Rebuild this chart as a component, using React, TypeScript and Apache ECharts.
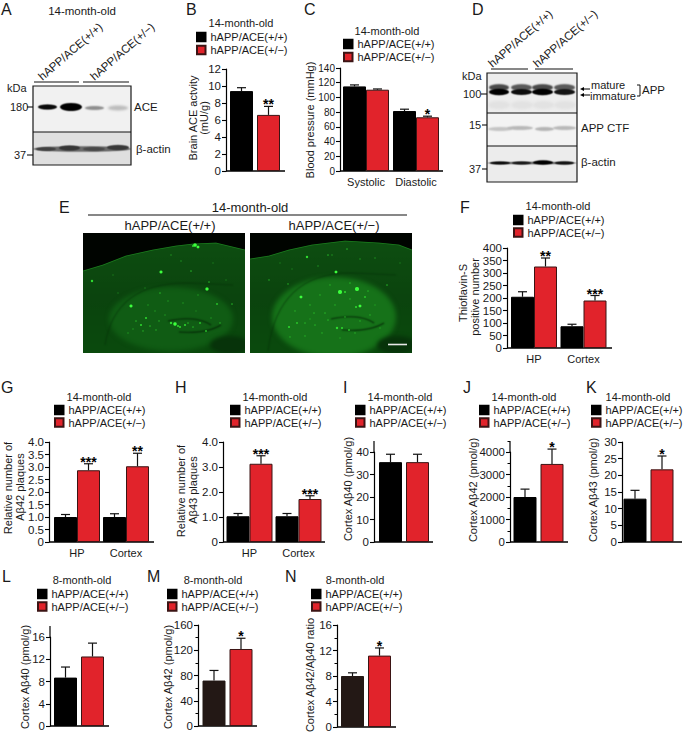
import React, { useEffect, useRef } from "react";
import * as echarts from "echarts";

const FONT = '"Liberation Sans", Arial, sans-serif';
const BLACK = "#000000";
const RED = "#e1232b";
const BORDER = "#3b1414";
const groupNames = ["hAPP/ACE(+/+)", "hAPP/ACE(+/−)"];
const age14 = "14-month-old";
const age8 = "8-month-old";

// ---- values ----
const hpCortex = ["HP", "Cortex"];
const sysDia = ["Systolic", "Diastolic"];
const single = [""];

const bWild = [9.4]; const bWildTop = [9.8]; const bHet = [6.6]; const bHetTop = [7.6]; const bStars = ["**"];
const cWild = [115, 81.5]; const cWildTop = [117, 84]; const cHet = [110.5, 73]; const cHetTop = [111.5, 74.5]; const cStars = ["", "*"];
const fWild = [205, 87]; const fWildTop = [225, 95]; const fHet = [326, 190]; const fHetTop = [360, 210]; const fStars = ["**", "***"];
const gWild = [1.0, 1.0]; const gWildTop = [1.1, 1.13]; const gHet = [2.87, 3.03]; const gHetTop = [3.13, 3.55]; const gStars = ["***", "**"];
const hWild = [1.03, 1.03]; const hWildTop = [1.14, 1.14]; const hHet = [3.13, 1.72]; const hHetTop = [3.45, 1.85]; const hStars = ["***", "***"];
const iWild = [35.5]; const iWildTop = [39]; const iHet = [35.5]; const iHetTop = [39]; const iStars = [""];
const jWild = [2000]; const jWildTop = [2350]; const jHet = [3470]; const jHetTop = [4130]; const jStars = ["*"];
const kWild = [13]; const kWildTop = [15.5]; const kHet = [21.8]; const kHetTop = [25.8]; const kStars = ["*"];
const lWild = [8.7]; const lWildTop = [10.6]; const lHet = [12.5]; const lHetTop = [14.9]; const lStars = [""];
const mWild = [72]; const mWildTop = [88]; const mHet = [122]; const mHetTop = [139]; const mStars = ["*"];
const nWild = [8]; const nWildTop = [8.5]; const nHet = [11.2]; const nHetTop = [12.4]; const nStars = ["*"];

const fixed1 = (v: number) => (v === 0 ? "0" : v.toFixed(1));

const panels: any[] = [
  { cats: single, wild: bWild, wildTop: bWildTop, het: bHet, hetTop: bHetTop, stars: bStars, max: 12, step: 2,
    axisX: 226, endX: 285, top: 69, bottom: 171, centers: [255], gap: 4, title: [age14, 241, 23], legend: [196, 31.5], rowGap: 2,
    yName: [["Brain ACE actvity", 193, 118], ["(mU/g)", 204, 118]] },
  { cats: sysDia, wild: cWild, wildTop: cWildTop, het: cHet, hetTop: cHetTop, stars: cStars, max: 140, step: 20, tickSize: 10,
    axisX: 340, endX: 443, top: 68, bottom: 171, centers: [366, 416], gap: 0, title: [age14, 387, 31], legend: [343, 38.5], rowGap: 2,
    yName: [["Blood pressure (mmHg)", 310, 120]] },
  { cats: hpCortex, wild: fWild, wildTop: fWildTop, het: fHet, hetTop: fHetTop, stars: fStars, max: 400, step: 50,
    axisX: 507, endX: 612, top: 248, bottom: 348, centers: [534, 583.5], gap: 0, title: [age14, 558, 206], legend: [513, 214.5],
    yName: [["Thioflavin-S", 463, 293], ["positive number", 475, 297]] },
  { cats: hpCortex, wild: gWild, wildTop: gWildTop, het: gHet, hetTop: gHetTop, stars: gStars, max: 4, step: 0.5, fmt: fixed1,
    axisX: 49, endX: 154, top: 442, bottom: 542, centers: [77, 126], gap: 0, title: [age14, 99, 397], legend: [54, 404.5],
    yName: [["Relative number of", 8, 488], ["Aβ42 plaques", 20, 487]] },
  { cats: hpCortex, wild: hWild, wildTop: hWildTop, het: hHet, hetTop: hHetTop, stars: hStars, max: 4, step: 1, fmt: fixed1,
    axisX: 223, endX: 325, top: 442, bottom: 542, centers: [249.5, 298.5], gap: 0, title: [age14, 275, 397], legend: [230, 404.5],
    yName: [["Relative number of", 181, 491], ["Aβ43 plaques", 193, 490]] },
  { cats: single, wild: iWild, wildTop: iWildTop, het: iHet, hetTop: iHetTop, stars: iStars, max: 40, step: 10,
    axisX: 374, endX: 433, top: 452, bottom: 542, extendTo: 441, centers: [404], gap: 4, title: [age14, 400, 397], legend: [355, 404.5],
    yName: [["Cortex Aβ40 (pmol/g)", 348, 489]] },
  { cats: single, wild: jWild, wildTop: jWildTop, het: jHet, hetTop: jHetTop, stars: jStars, max: 4000, step: 1000, minor: true,
    axisX: 510, endX: 568, top: 452, bottom: 542, extendTo: 441, extendTick: true, centers: [538.5], gap: 4, title: [age14, 524, 397], legend: [479, 404.5],
    yName: [["Cortex Aβ42 (pmol/g)", 473, 490]] },
  { cats: single, wild: kWild, wildTop: kWildTop, het: kHet, hetTop: kHetTop, stars: kStars, max: 30, step: 5,
    axisX: 622, endX: 682, top: 442, bottom: 542, centers: [648.5], gap: 4, title: [age14, 638, 397], legend: [591, 404.5],
    yName: [["Cortex Aβ43 (pmol/g)", 593, 490]] },
  { cats: single, wild: lWild, wildTop: lWildTop, het: lHet, hetTop: lHetTop, stars: lStars, max: 16, step: 4,
    axisX: 50, endX: 109, top: 637, bottom: 726, extendTo: 626, centers: [79], gap: 4, title: [age8, 82, 580], legend: [37, 588.5],
    yName: [["Cortex Aβ40 (pmol/g)", 25, 677]] },
  { cats: single, wild: mWild, wildTop: mWildTop, het: mHet, hetTop: mHetTop, stars: mStars, max: 160, step: 40, minor: true, dark: true,
    axisX: 198, endX: 257, top: 625, bottom: 726, centers: [227.5], gap: 4, title: [age8, 213, 580], legend: [167, 588.5],
    yName: [["Cortex Aβ42 (pmol/g)", 168, 677]] },
  { cats: single, wild: nWild, wildTop: nWildTop, het: nHet, hetTop: nHetTop, stars: nStars, max: 16, step: 4, minor: true, dark: true,
    axisX: 337, endX: 396, top: 625, bottom: 727, centers: [366], gap: 4, title: [age8, 355, 580], legend: [311, 588.5],
    yName: [["Cortex Aβ42/Aβ40 ratio", 310, 675]] },
];

const panelLetters: [string, number, number][] = [
  ["A", 1, 9], ["B", 186, 9], ["C", 304, 9], ["D", 472, 9], ["E", 59, 207], ["F", 460, 207],
  ["G", 1, 387], ["H", 175, 387], ["I", 343, 387], ["J", 463, 387], ["K", 586, 387],
  ["L", 2, 576], ["M", 147, 576], ["N", 285, 576],
];

// ---- picture textures: [x0, x1, centre y, half height, colour, blur] ----
const blotAceBands: any[] = [
  [5, 24, 21, 2.6, "#0a0a0a", 1], [27, 49, 21, 4, "#000000", 1], [52, 71, 22, 2, "#8d8d8d", 1.5], [75, 95, 22, 2.5, "#bcbcbc", 2],
];
const blotActinBands: any[] = [
  [0, 98, 17, 2.8, "#6a6a6a", 1.2], [3, 23, 17, 2, "#404040", 1], [26, 47, 16, 2.6, "#353535", 1], [50, 72, 17, 2, "#484848", 1], [74, 96, 15.5, 2.6, "#383838", 1],
];
const blotAppBands: any[] = [
  [1, 23, 32, 4, "#e2e2e2", 2], [24, 46, 32, 4, "#e2e2e2", 2], [46, 67, 32, 4, "#e2e2e2", 2], [67, 89, 32, 4, "#e2e2e2", 2],
  [2, 22, 14.5, 3.4, "#4a4a4a", 1.6], [24, 45, 14.5, 3.4, "#5a5a5a", 1.6], [45, 66, 14.5, 3.4, "#4a4a4a", 1.6], [67, 88, 14.5, 3.4, "#5a5a5a", 1.6],
  [2, 22, 19, 3.2, "#000000", 1], [24, 45, 19, 3, "#0d0d0d", 1], [45, 66, 19, 3.2, "#000000", 1], [67, 88, 19, 3, "#141414", 1],
];
const blotCtfBands: any[] = [
  [1, 25, 16, 2, "#c4c4c4", 1.8], [20, 46, 15, 2, "#b8b8b8", 1.8], [48, 67, 16, 2, "#b4b4b4", 1.8], [66, 89, 15, 2, "#b8b8b8", 1.8],
];
const blotDActinBands: any[] = [
  [0, 90, 17, 1.2, "#666666", 1], [3, 23, 17, 1.6, "#0d0d0d", 0.8], [25, 44, 17, 1.6, "#1a1a1a", 0.8], [46, 66, 16.5, 2.2, "#000000", 0.8], [68, 87, 17, 1.7, "#141414", 0.8],
];

// ---- cortex outline and fluorescent spots [x, y, radius] in each 162x120 section ----
const leftOutline = [[0, 38], [20, 32], [43, 23], [70, 17], [93, 13], [110, 11], [133, 10], [162, 17]];
const rightOutline = [[0, 26], [19, 23], [39, 17], [62, 12], [95, 8], [129, 10], [149, 12], [162, 17]];
const leftSpots: number[][] = [
  [112, 12, 1.8], [115, 14, 1.4], [110, 13, 1], [78, 39, 1.5], [9, 48, 1.2], [124, 56, 1.6], [48, 73, 1.5], [92, 91, 1.7], [88, 90, 1.2], [95, 93, 1],
  [58, 92, 1], [63, 85, 1], [102, 92, 1], [108, 38, 0.8], [126, 49, 0.8], [149, 71, 0.8], [134, 71, 0.9], [123, 98, 0.9], [67, 93, 0.8], [117, 90, 0.9],
  [97, 94, 1], [77, 60, 0.8], [53, 88, 0.8], [73, 97, 0.7], [105, 90, 0.8], [110, 94, 0.8], [82, 82, 0.6], [72, 78, 0.6], [60, 98, 0.7], [50, 96, 0.6],
  [100, 70, 0.6], [115, 62, 0.6], [88, 22, 0.6], [98, 28, 0.6], [130, 30, 0.5], [62, 55, 0.5], [35, 60, 0.5], [30, 42, 0.5], [137, 90, 0.7], [128, 85, 0.6],
  [65, 72, 0.6], [85, 68, 0.6], [76, 88, 0.7], [113, 78, 0.5], [143, 47, 0.5], [45, 100, 0.6],
];
const rightSpots: number[][] = [
  [90, 59, 2], [107, 56, 2], [57, 24, 1.2], [86, 39, 1.4], [51, 64, 1.4], [110, 73, 1.4], [106, 74, 1], [78, 22, 0.8], [97, 16, 0.8], [95, 59, 1],
  [87, 95, 1.2], [92, 95, 1], [39, 94, 1], [115, 64, 0.9], [38, 51, 0.7], [19, 47, 0.7], [137, 52, 0.8], [64, 80, 0.8], [75, 80, 0.8], [47, 90, 0.9],
  [99, 97, 0.9], [55, 90, 0.8], [65, 92, 0.8], [82, 22, 0.6], [125, 25, 0.6], [110, 26, 0.6], [100, 50, 0.8], [118, 58, 0.8], [80, 52, 0.7], [70, 62, 0.7],
  [60, 72, 0.7], [85, 72, 0.7], [95, 84, 0.7], [110, 88, 0.7], [120, 82, 0.7], [45, 78, 0.7], [40, 104, 0.7], [55, 103, 0.7], [72, 100, 0.7], [105, 100, 0.7],
  [78, 87, 0.8], [125, 72, 0.6], [130, 95, 0.6], [68, 33, 0.6], [42, 36, 0.5], [150, 30, 0.5], [30, 30, 0.5], [100, 66, 0.7], [60, 86, 0.6], [90, 105, 0.6],
];

function blot(w: number, h: number, bg: string, bands: any[]) {
  const c = document.createElement("canvas");
  c.width = w * 2; c.height = h * 2;
  const x = c.getContext("2d") as any;
  x.scale(2, 2);
  x.fillStyle = bg; x.fillRect(0, 0, w, h);
  for (const [x0, x1, cy, hh, col, blur] of bands) {
    x.filter = `blur(${blur}px)`;
    x.fillStyle = col;
    x.beginPath();
    x.ellipse((x0 + x1) / 2, cy, (x1 - x0) / 2, hh, 0, 0, Math.PI * 2);
    x.fill();
  }
  return c.toDataURL();
}

function section(outline: number[][], spots: number[][], hippo: string, hx: number, hy: number, hrx: number, hry: number) {
  const w = 162, h = 120;
  const c = document.createElement("canvas");
  c.width = w * 2; c.height = h * 2;
  const x = c.getContext("2d") as any;
  x.scale(2, 2);
  x.fillStyle = "#000400"; x.fillRect(0, 0, w, h);
  x.save();
  x.beginPath();
  x.moveTo(0, h);
  outline.forEach((p) => x.lineTo(p[0], p[1]));
  x.lineTo(w, h);
  x.closePath();
  x.clip();
  const g = x.createLinearGradient(0, 0, 0, h);
  g.addColorStop(0, "#0e4f11"); g.addColorStop(0.55, "#0b440e"); g.addColorStop(1, "#0a4a0d");
  x.fillStyle = g; x.fillRect(0, 0, w, h);
  x.filter = "blur(5px)";
  x.fillStyle = hippo;
  x.beginPath(); x.ellipse(hx, hy, hrx, hry, 0, 0, Math.PI * 2); x.fill();
  x.filter = "blur(1.5px)";
  x.strokeStyle = "rgba(5,45,8,0.55)"; x.lineWidth = 1;
  x.beginPath(); x.moveTo(hx - hrx - 4, hy + hry - 6); x.quadraticCurveTo(hx - hrx + 6, hy - hry - 6, hx + 20, hy - hry - 4); x.lineTo(hx + hrx, hy - hry - 2); x.stroke();
  x.lineWidth = 1.1; x.strokeStyle = "rgba(2,30,5,0.85)";
  x.beginPath(); x.moveTo(hx - 3, hy + 2); x.quadraticCurveTo(hx + 25, hy - 4, hx + 40, hy + 6); x.stroke();
  x.beginPath(); x.moveTo(hx + 8, hy + 13); x.quadraticCurveTo(hx + 35, hy + 15, hx + 50, hy + 6); x.stroke();
  x.filter = "blur(4px)";
  x.fillStyle = "#07330a";
  x.beginPath(); x.ellipse(147, 112, 20, 9, 0, 0, Math.PI * 2); x.fill();
  x.filter = "none";
  x.restore();
  x.filter = "blur(0.4px)";
  x.strokeStyle = "#1b7f1e"; x.lineWidth = 0.8;
  x.beginPath();
  outline.forEach((p, i) => (i ? x.lineTo(p[0], p[1]) : x.moveTo(p[0], p[1])));
  x.stroke();
  x.filter = "blur(0.5px)";
  for (const [sx, sy, r] of spots) {
    x.fillStyle = r >= 1.4 ? "#3dff3d" : r >= 0.9 ? "#2fdc30" : "#27b528";
    x.beginPath(); x.arc(sx, sy, r, 0, Math.PI * 2); x.fill();
  }
  x.filter = "none";
  return c.toDataURL();
}

function label(text: string, x: number, y: number, o: any = {}) {
  return {
    type: "text", x, y, rotation: o.rotation || 0, silent: true,
    style: {
      text, fill: o.fill || "#1a1a1a", font: `${o.weight || "normal"} ${o.size || 11}px ${FONT}`,
      textAlign: o.align || "left", align: o.align || "left", textVerticalAlign: "middle", verticalAlign: "middle",
    },
  };
}
function rule(x1: number, y1: number, x2: number, y2: number, lineWidth = 1.1, stroke = "#111") {
  return { type: "line", silent: true, shape: { x1, y1, x2, y2 }, style: { stroke, lineWidth } };
}
function picture(url: string, x: number, y: number, width: number, height: number) {
  return { type: "image", silent: true, x, y, style: { image: url, x: 0, y: 0, width, height } };
}
function frame(x: number, y: number, width: number, height: number) {
  return { type: "rect", silent: true, shape: { x, y, width, height }, style: { fill: "none", stroke: "#1a1a1a", lineWidth: 1.2 } };
}
function arrow(xTip: number, xEnd: number, y: number) {
  return [
    rule(xTip + 3, y, xEnd, y, 1, "#000"),
    { type: "polygon", silent: true, shape: { points: [[xTip, y], [xTip + 4, y - 2], [xTip + 4, y + 2]] }, style: { fill: "#000" } },
  ];
}

function figureGraphics() {
  const e: any[] = [];
  const slant = (41 * Math.PI) / 180;
  panelLetters.forEach(([t, x, y]) => e.push(label(t, x, y, { size: 16 })));

  // Panel A
  e.push(label(age14, 82, 11, { align: "center", size: 11.5 }));
  e.push(label(groupNames[0], 40, 78, { rotation: slant, size: 11.5 }));
  e.push(label(groupNames[1], 92, 78, { rotation: slant, size: 11.5 }));
  e.push(rule(34, 82, 79, 82), rule(83, 82, 129, 82));
  e.push(picture(blot(98, 46, "#f1f1f1", blotAceBands), 33, 86, 98, 46));
  e.push(picture(blot(98, 33, "#dfdfdf", blotActinBands), 33, 132, 98, 33));
  e.push(frame(33, 86, 98, 79), rule(33, 132, 131, 132, 1.2));
  e.push(label("kDa", 7, 88), label("180", 10, 107), label("37", 14, 155));
  e.push(rule(27, 107, 33, 107), rule(27, 155, 33, 155));
  e.push(label("ACE", 134, 107, { size: 11.5 }), label("β-actin", 136, 149, { size: 11.5 }));

  // Panel D
  e.push(label(groupNames[0], 490, 65, { rotation: slant, size: 11.5 }));
  e.push(label(groupNames[1], 535, 65, { rotation: slant, size: 11.5 }));
  e.push(rule(491, 69, 528, 69), rule(535, 69, 573, 69));
  e.push(picture(blot(90, 40, "#ededed", blotAppBands), 487, 73, 90, 40));
  e.push(picture(blot(90, 33, "#f3f3f3", blotCtfBands), 487, 113, 90, 33));
  e.push(picture(blot(90, 36, "#ececec", blotDActinBands), 487, 146, 90, 36));
  e.push(frame(487, 73, 90, 109), rule(487, 113, 577, 113, 1.2), rule(487, 146, 577, 146, 1.2));
  e.push(label("kDa", 462, 76), label("100", 463, 94), label("15", 469, 125), label("37", 469, 169));
  e.push(rule(481, 94, 487, 94), rule(482, 125, 487, 125), rule(482, 169, 487, 169));
  e.push(label("mature", 591, 85, { size: 11 }), label("immature", 590, 96, { size: 11 }));
  e.push(...arrow(580, 590, 89), ...arrow(580, 590, 95));
  e.push({ type: "polyline", silent: true, shape: { points: [[637, 85], [640, 85], [640, 96], [637, 96]] }, style: { stroke: "#111", lineWidth: 1, fill: "none" } });
  e.push(label("APP", 642, 90, { size: 11.5 }));
  e.push(label("APP CTF", 581, 128, { size: 11.5 }), label("β-actin", 581, 162, { size: 11.5 }));

  // Panel E
  e.push(label(age14, 250, 207, { align: "center", size: 13 }));
  e.push(rule(88, 215, 407, 215, 1.2));
  e.push(label(groupNames[0], 170, 225, { align: "center", size: 13 }), label(groupNames[1], 334, 225, { align: "center", size: 13 }));
  e.push(picture(section(leftOutline, leftSpots, "#105c14", 88, 86, 62, 32), 83, 233, 162, 120));
  e.push(picture(section(rightOutline, rightSpots, "#167219", 84, 84, 62, 40), 250, 233, 162, 120));
  e.push(rule(388, 344.5, 407, 344.5, 1.6, "#e8e8e8"));

  // Chart titles, y-axis names, baselines
  for (const p of panels) {
    e.push(label(p.title[0], p.title[1], p.title[2], { align: "center" }));
    for (const [t, x, y] of p.yName) e.push(label(t, x, y, { align: "center", rotation: Math.PI / 2 }));
    e.push(rule(p.axisX, p.bottom, p.endX, p.bottom, 1.3, "#000"));
    if (p.extendTo) e.push(rule(p.axisX, p.extendTo, p.axisX, p.top, 1.2, "#000"));
    if (p.extendTick) e.push(rule(p.axisX - 2.5, p.extendTo + 0.5, p.axisX, p.extendTo + 0.5, 1, "#000"));
  }
  return e;
}

function buildOption() {
  const grid: any[] = [], xAxis: any[] = [], yAxis: any[] = [], series: any[] = [], legend: any[] = [];
  const barW = 23;
  panels.forEach((p, i) => {
    let left: number, width: number;
    if (p.centers.length === 2) {
      const s = p.centers[1] - p.centers[0];
      left = p.centers[0] - s / 2; width = 2 * s;
    } else {
      const half = Math.min(p.centers[0] - p.axisX, p.endX - p.centers[0]);
      left = p.centers[0] - half; width = 2 * half;
    }
    grid.push({ left, top: p.top, width, height: p.bottom - p.top });
    xAxis.push({
      type: "category", gridIndex: i, data: p.cats,
      axisLine: { show: false }, axisTick: { show: false },
      axisLabel: { show: p.cats !== single, margin: 5, color: "#1a1a1a", fontFamily: FONT, fontSize: 11, interval: 0 },
    });
    yAxis.push({
      type: "value", gridIndex: i, min: 0, max: p.max, interval: p.step, position: "left", offset: left - p.axisX,
      splitLine: { show: false },
      axisLine: { show: true, onZero: false, lineStyle: { color: "#000", width: 1.2 } },
      axisTick: { show: true, length: 4, lineStyle: { color: "#000", width: 1.1 } },
      minorTick: { show: !!p.minor, splitNumber: 2, length: 2.5, lineStyle: { color: "#000", width: 1 } },
      axisLabel: { margin: 5, color: "#1a1a1a", fontFamily: FONT, fontSize: p.tickSize || 11.5, formatter: p.fmt || ((v: number) => String(v)) },
    });
    const gapPct = `${(p.gap / barW) * 100}%`;
    const wildColor = p.dark ? "#231815" : BLACK;
    series.push(
      { type: "bar", name: groupNames[0], xAxisIndex: i, yAxisIndex: i, data: p.wild, barWidth: barW, barGap: gapPct,
        itemStyle: { color: wildColor, borderColor: wildColor, borderWidth: 1 } },
      { type: "bar", name: groupNames[1], xAxisIndex: i, yAxisIndex: i, data: p.het, barWidth: barW, barGap: gapPct,
        itemStyle: { color: RED, borderColor: BORDER, borderWidth: 1 } },
    );
    [[p.wild, p.wildTop, -1], [p.het, p.hetTop, 1]].forEach(([vals, tops, side]: any, k) => {
      const shift = (side * (barW + p.gap)) / 2;
      series.push({
        type: "custom", xAxisIndex: i, yAxisIndex: i, z: 5, silent: true, clip: false,
        encode: { x: 0, y: 1 },
        data: vals.map((v: number, j: number) => [j, v, tops[j]]),
        renderItem: (params: any, api: any) => {
          const base = api.coord([api.value(0), api.value(1)]);
          const top = api.coord([api.value(0), api.value(2)]);
          const cx = base[0] + shift;
          const children: any[] = [
            { type: "line", shape: { x1: cx, y1: base[1], x2: cx, y2: top[1] }, style: { stroke: "#111", lineWidth: 1.2 } },
            { type: "line", shape: { x1: cx - 4.5, y1: top[1], x2: cx + 4.5, y2: top[1] }, style: { stroke: "#111", lineWidth: 1.2 } },
          ];
          const star = k === 1 ? p.stars[params.dataIndex] : "";
          if (star) {
            children.push({
              type: "text", x: cx, y: top[1] - 2,
              style: { text: star, fill: "#000", font: `bold 14px ${FONT}`, textAlign: "center", align: "center", textVerticalAlign: "middle", verticalAlign: "middle" },
            });
          }
          return { type: "group", children };
        },
      });
    });
    legend.push({
      left: p.legend[0], top: p.legend[1], orient: "vertical", data: groupNames, selectedMode: false, icon: "rect",
      itemWidth: 8.5, itemHeight: 8.5, itemGap: p.rowGap ?? 1.5, padding: 0,
      textStyle: { color: "#1a1a1a", fontFamily: FONT, fontSize: 11 },
    });
  });
  return { animation: false, backgroundColor: "#ffffff", grid, xAxis, yAxis, series, legend, graphic: { elements: figureGraphics() } };
}

export default function App() {
  const ref = useRef<HTMLDivElement>(null);
  useEffect(() => {
    const chart = echarts.init(ref.current as HTMLDivElement, undefined, { renderer: "svg" });
    chart.setOption(buildOption() as any);
    return () => chart.dispose();
  }, []);
  return <div ref={ref} style={{ position: "absolute", left: 0, top: 0, width: 683, height: 733 }} />;
}
